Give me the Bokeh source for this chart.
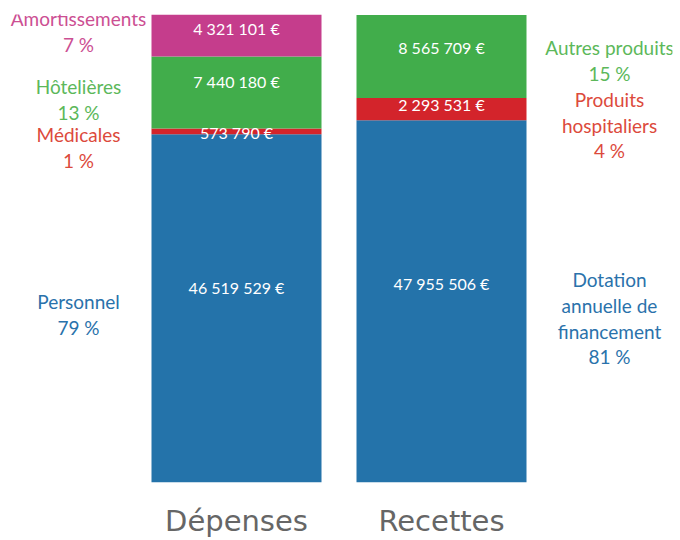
from bokeh.plotting import figure
from bokeh.models import Range1d, FixedTicker, ColumnDataSource
from bokeh.core.properties import value
from bokeh.embed import file_html
from bokeh.resources import INLINE

# ---- data ----
categories = ["Dépenses", "Recettes"]

depenses_names = ["Personnel", "Médicales", "Hôtelières", "Amortissements"]  # bottom -> top
depenses_values = [46519529, 573790, 7440180, 4321101]
depenses_pct = [79, 1, 13, 7]

recettes_names = ["Dotation\nannuelle de\nfinancement", "Produits\nhospitaliers", "Autres produits"]
recettes_values = [47955506, 2293531, 8565709]
recettes_pct = [81, 4, 15]

# ---- styles ----
depenses_colors = ["#2473aa", "#d3242b", "#41ad4b", "#c53d8c"]
depenses_text_colors = ["#2a72ab", "#dc4a3c", "#5cb85a", "#cc4f93"]
recettes_colors = ["#2473aa", "#d3242b", "#41ad4b"]
recettes_text_colors = ["#2a72ab", "#dc4a3c", "#5cb85a"]
depenses_value_dy = [-21, 1, -11, -7]
recettes_value_dy = [-18, -5, -9]
depenses_side_dy = [6, 16, 7, -4]
recettes_side_dy = [17, 16, 4]
FONT = "Lato"
Y_START = 10.6e6  # visible lower bound of the value scale


def fmt(v):
    return f"{v:,}".replace(",", " ") + " €"


def build(x, names, vals, pcts, colors, tcolors, vdy, sdy):
    bottoms, tops = [], []
    acc = 0
    for v in vals:
        bottoms.append(acc)
        acc += v
        tops.append(acc)
    mids = [(max(b, Y_START) + t) / 2 for b, t in zip(bottoms, tops)]
    n = len(vals)
    bars = ColumnDataSource(dict(x=[x] * n, bottom=bottoms, top=tops, color=colors))
    vlab = ColumnDataSource(dict(x=[x] * n, y=mids, text=[fmt(v) for v in vals], dy=vdy))
    slab = ColumnDataSource(dict(x=[x] * n, y=mids,
                                 text=[f"{nm}\n{p} %" for nm, p in zip(names, pcts)],
                                 color=tcolors, dy=sdy))
    return bars, vlab, slab, acc


xs = list(range(len(categories)))
d_bars, d_vlab, d_slab, d_total = build(xs[0], depenses_names, depenses_values, depenses_pct,
                                        depenses_colors, depenses_text_colors,
                                        depenses_value_dy, depenses_side_dy)
r_bars, r_vlab, r_slab, r_total = build(xs[1], recettes_names, recettes_values, recettes_pct,
                                        recettes_colors, recettes_text_colors,
                                        recettes_value_dy, recettes_side_dy)

y_end = max(d_total, r_total)

p = figure(frame_width=664, frame_height=468, output_backend="svg", toolbar_location=None,
           x_range=Range1d(-228 / 205, (664 - 228) / 205), y_range=Range1d(Y_START, y_end),
           y_axis_location=None, min_border_top=14, min_border_left=8, min_border_right=4,
           min_border_bottom=0, outline_line_color=None)
p.grid.visible = False

bar_w = 170 / 205
for src in (d_bars, r_bars):
    p.vbar(x="x", bottom="bottom", top="top", width=bar_w, fill_color="color",
           line_color=None, source=src)

for src in (d_vlab, r_vlab):
    p.text(x="x", y="y", text="text", y_offset="dy", text_color="white",
           text_font=value(FONT), text_font_size="16px", text_align="center",
           text_baseline="middle", source=src)

p.text(x="x", y="y", text="text", x_offset=-158, y_offset="dy", text_color="color",
       text_font=value(FONT), text_font_size="19px", text_align="center",
       text_baseline="middle", text_line_height=1.12, source=d_slab)
p.text(x="x", y="y", text="text", x_offset=168, y_offset="dy", text_color="color",
       text_font=value(FONT), text_font_size="19px", text_align="center",
       text_baseline="middle", text_line_height=1.12, source=r_slab)

ax = p.xaxis[0]
ax.ticker = FixedTicker(ticks=xs)
ax.major_label_overrides = {x: c for x, c in zip(xs, categories)}
ax.axis_line_color = None
ax.major_tick_line_color = None
ax.minor_tick_line_color = None
ax.major_tick_out = 0
ax.major_tick_in = 0
ax.major_label_standoff = 21
ax.major_label_text_font = "DejaVu Sans"
ax.major_label_text_font_size = "29px"
ax.major_label_text_color = "#666666"

open("out.html", "w").write(file_html(p, INLINE))
